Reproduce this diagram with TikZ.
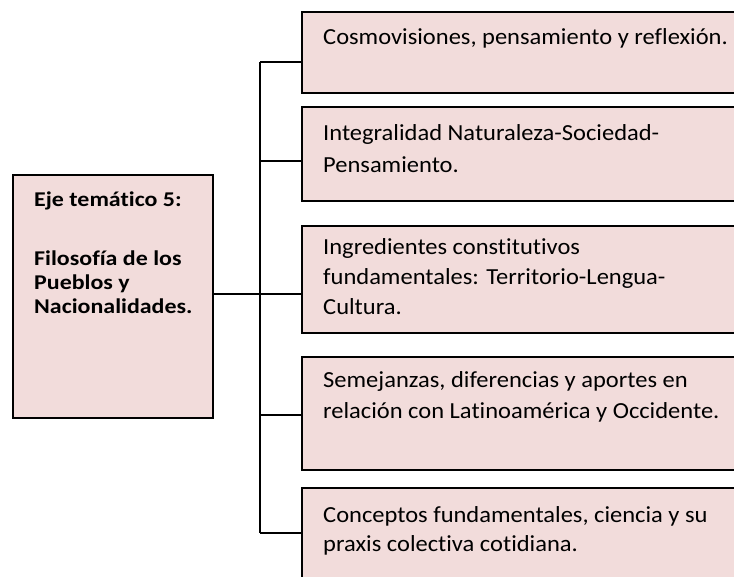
\documentclass[tikz,border=0pt]{standalone}
\usepackage{fontspec}
\setmainfont{Carlito}
\newfontfamily\rfont[FakeStretch=1.065,Ligatures=NoCommon]{Carlito}
\newfontfamily\lfont[FakeStretch=1.14,Ligatures=NoCommon]{Carlito}
\definecolor{boxpink}{RGB}{242,220,219}
\tikzset{
  box/.style={draw=black, fill=boxpink, line width=1.3pt, inner sep=0pt, outer sep=0pt, anchor=north west},
  rtext/.style={anchor=base west, inner sep=0pt, font=\rfont\fontsize{23}{28}\selectfont},
  ltext/.style={anchor=base west, inner sep=0pt, font=\lfont\bfseries\fontsize{21}{25}\selectfont},
  conn/.style={draw=black, line width=1.1pt}
}
\begin{document}
\begin{tikzpicture}[x=1pt,y=-1pt]
\useasboundingbox (0,0) rectangle (734,577);
\clip (0,0) rectangle (734,577);
% boxes
\node[box, minimum width=200pt, minimum height=243pt] (lb) at (13,175) {};
\node[box, minimum width=440pt, minimum height=81pt]  (b1) at (302,12) {};
\node[box, minimum width=440pt, minimum height=94pt]  (b2) at (302,107) {};
\node[box, minimum width=440pt, minimum height=107pt] (b3) at (302,226) {};
\node[box, minimum width=440pt, minimum height=113pt] (b4) at (302,357) {};
\node[box, minimum width=440pt, minimum height=110pt] (b5) at (302,488) {};
% left text
\node[ltext] (l1) at (34,207) {Eje temático 5:};
\node[ltext] (l2) at (34,266) {Filosofía de los};
\node[ltext] (l3) at (34,290) {Pueblos y};
\node[ltext] (l4) at (34,314) {Nacionalidades.};
% right texts
\node[rtext] (t1) at (323,45) {Cosmovisiones, pensamiento y reflexión.};
\node[rtext] (t2a) at (323,141) {Integralidad Naturaleza-Sociedad-};
\node[rtext] (t2b) at (323,173) {Pensamiento.};
\node[rtext] (t3a) at (323,255) {Ingredientes constitutivos};
\node[rtext] (t3b) at (323,285) {fundamentales: Territorio-Lengua-};
\node[rtext] (t3c) at (323,315) {Cultura.};
\node[rtext] (t4a) at (323,388) {Semejanzas, diferencias y aportes en};
\node[rtext] (t4b) at (323,418) {relación con Latinoamérica y Occidente.};
\node[rtext] (t5a) at (323,522) {Conceptos fundamentales, ciencia y su};
\node[rtext] (t5b) at (323,551) {praxis colectiva cotidiana.};
% connectors
\coordinate (j1) at (260,62);
\coordinate (j2) at (260,161);
\coordinate (j3) at (260,294);
\coordinate (j4) at (260,415);
\coordinate (j5) at (260,533);
\draw[conn] (j1) -- (j5);
\draw[conn] (j1) -- (j1 -| b1.west);
\draw[conn] (j2) -- (j2 -| b2.west);
\draw[conn] (j3) -- (j3 -| b3.west);
\draw[conn] (j4) -- (j4 -| b4.west);
\draw[conn] (j5) -- (j5 -| b5.west);
\draw[conn] (lb.east |- j3) -- (j3);
\end{tikzpicture}
\end{document}
